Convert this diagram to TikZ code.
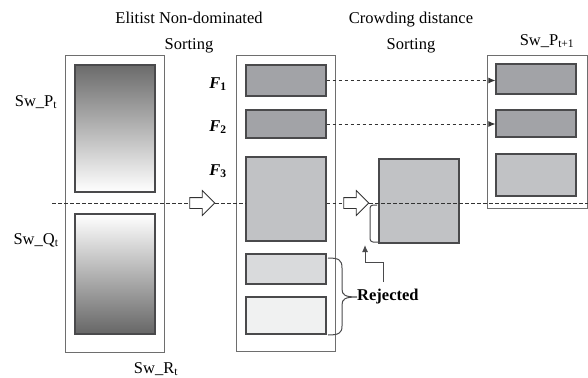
\documentclass[tikz,border=0pt]{standalone}
\usepackage{fontspec}
\setmainfont{Liberation Serif}
\usetikzlibrary{positioning,shapes.arrows,arrows.meta}
\definecolor{frm}{HTML}{6E6E6E}
\definecolor{edg}{HTML}{4A4A4C}
\definecolor{gA}{HTML}{A2A3A7}
\definecolor{gB}{HTML}{C1C2C5}
\definecolor{gC}{HTML}{D9DADC}
\definecolor{gD}{HTML}{F0F1F1}
\tikzset{
  frame/.style={draw=frm,line width=0.9pt,inner sep=0pt},
  blk/.style={draw=edg,line width=1.1pt,inner sep=0pt,minimum width=80pt},
  lbl/.style={font=\fontsize{16.5}{26}\selectfont,inner sep=0pt,align=center},
  hollow/.style={single arrow,draw=black!80,line width=0.8pt,fill=white,inner xsep=0pt,
    inner ysep=5pt,minimum height=25pt,single arrow head extend=7pt},
  dline/.style={draw=black!80,line width=1pt,dash pattern=on 3.5pt off 2.5pt}
}

\begin{document}
\begin{tikzpicture}[x=1pt,y=-1pt]
    \useasboundingbox (0,0) rectangle (588,377);
    % dashed cut line (under the boxes)
    \coordinate (dl) at (52,203);
    \coordinate (dr) at (588,203);
    \node[hollow] (a1) at (199.5,203) {};
    \node[hollow] (a2) at (353.5,203) {};
    % left: Sw_R_t = Sw_P_t + Sw_Q_t
    \node[frame,minimum width=99pt,minimum height=297pt] (R) at (114.5,203.5) {};
    \node[blk,minimum height=127pt,top color=black!58,bottom color=white] (P) at (115,128.5) {};
    \node[blk,minimum height=120pt,top color=white,bottom color=black!60] (Q) at (115,274) {};
    \node[lbl] (Pt) at (36,102) {Sw\_P\textsubscript{t}};
    \node[lbl] (Qt) at (36,240) {Sw\_Q\textsubscript{t}};
    \node[lbl] (Rt) at (156,369) {Sw\_R\textsubscript{t}};
    % middle: fronts
    \node[frame,minimum width=99pt,minimum height=296pt] (M) at (285.5,203) {};
    \node[blk,minimum height=31pt,fill=gA] (F1) at (286,80.5) {};
    \node[blk,minimum height=28pt,fill=gA] (F2) at (286,124) {};
    \node[blk,minimum height=84pt,fill=gB] (F3) at (286,199) {};
    \node[blk,minimum height=30pt,fill=gC] (J1) at (286,269) {};
    \node[blk,minimum height=37pt,fill=gD] (J2) at (286,315.5) {};
    \node[lbl] (f1) at (218,84) {\textbf{\textit{F}\textsubscript{1}}};
    \node[lbl] (f2) at (218,127) {\textbf{\textit{F}\textsubscript{2}}};
    \node[lbl] (f3) at (218,171) {\textbf{\textit{F}\textsubscript{3}}};
    \node[lbl] (t1) at (189,33) {Elitist Non-dominated\\Sorting};
    % crowding distance
    \node[blk,minimum height=84pt,fill=gB] (C) at (419,201) {};
    \node[lbl] (t2) at (411,32.5) {Crowding distance\\Sorting};
    % right: next population
    \node[frame,minimum width=100pt,minimum height=153pt] (N) at (537,131.5) {};
    \node[blk,minimum height=30pt,fill=gA] (N1) at (536,79) {};
    \node[blk,minimum height=27pt,fill=gA] (N2) at (536,123.5) {};
    \node[blk,minimum height=42pt,fill=gB] (N3) at (536,175) {};
    \node[lbl] (Pn) at (547,41) {Sw\_P\textsubscript{t+1}};
    % connectors
    \draw[dline] (dl) -- (a1.tail);
    \draw[dline] (a1.tip) -- (a1.tip -| F3.west);
    \draw[dline] (a1.tip -| F3.east) -- (a2.tail);
    \draw[dline] (a2.tip) -- (dr);
    \draw[dline,-{Latex[length=7pt,width=6pt]}] (F1.east) -- (F1.east -| N1.west);
    \draw[dline,-{Latex[length=7pt,width=6pt]}] (F2.east) -- (F2.east -| N2.west);
    % bracket and arrow at the crowding box
    \coordinate (bt) at (377,205);
    \draw[edg,line width=1pt,rounded corners=3pt] (bt) -- ++(-7,0) -- ++(0,37) -- ++(8,0);
    \coordinate (ua) at (383,282);
    \draw[edg,line width=1pt,-{Latex[length=7pt,width=6pt]}] (ua) -- ++(0,-20) -- ++(-18,0) -- ++(0,-17);
    % rejected fronts
    \coordinate (rb1) at (328,258);
    \coordinate (rb2) at (328,335);
    \coordinate (rtip) at (357,297);
    \draw[edg,line width=1pt] (rb1) .. controls (339,258) and (342,260) .. (342,268) -- (342,289)
        .. controls (342,295) and (345,297) .. (rtip)
        .. controls (345,297) and (342,299) .. (342,305) -- (342,326)
        .. controls (342,333) and (339,335) .. (rb2);
    \node[lbl,anchor=west] (rej) at (rtip) {\textbf{Rejected}};
\end{tikzpicture}
\end{document}
